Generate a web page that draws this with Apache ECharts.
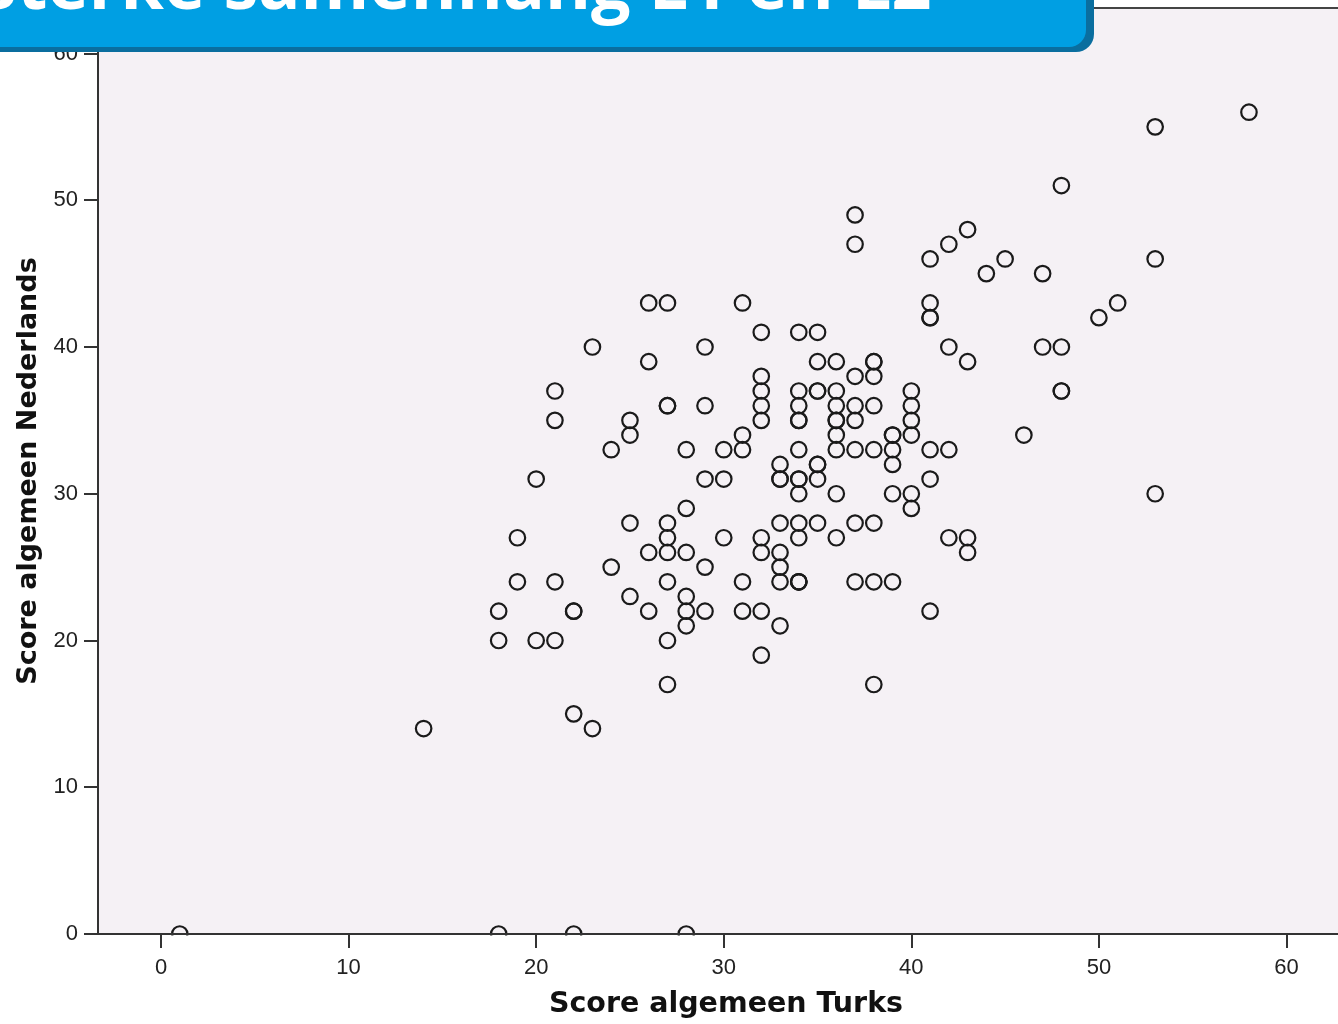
<!DOCTYPE html>
<html>
<head>
<meta charset="utf-8">
<title>Sterke samenhang L1 en L2</title>
<script src="https://cdn.jsdelivr.net/npm/echarts@6/dist/echarts.min.js"></script>
<style>
    html, body {margin: 0; padding: 0; background: #fff;}
    #main {width: 1338px; height: 1024px;}
</style>
</head>
<body>
<div id="main"></div>
<script>
// score algemeen Turks (x-as), één waarde per leerling
var turks = [
    1, 18, 22, 28, 14, 22, 23, 18, 18, 19, 19, 20, 20, 21, 21, 21, 21, 22, 22, 23,
    24, 24, 25, 25, 25, 25, 26, 26, 26, 26, 27, 27, 27, 27, 27, 27, 27, 27, 27,
    28, 28, 28, 28, 28, 28, 29, 29, 29, 29, 29, 30, 30, 30, 31, 31, 31, 31, 31,
    32, 32, 32, 32, 32, 32, 32, 32, 32, 33, 33, 33, 33, 33, 33, 33, 33,
    34, 34, 34, 34, 34, 34, 34, 34, 34, 34, 34, 34, 34, 34,
    35, 35, 35, 35, 35, 35, 35, 35, 36, 36, 36, 36, 36, 36, 36, 36, 36,
    37, 37, 37, 37, 37, 37, 37, 37, 38, 38, 38, 38, 38, 38, 38, 38,
    39, 39, 39, 39, 39, 39, 40, 40, 40, 40, 40, 40, 41, 41, 41, 41, 41, 41, 41,
    42, 42, 42, 42, 43, 43, 43, 43, 44, 45, 46, 47, 47, 48, 48, 48, 48,
    50, 51, 53, 53, 53, 58
];
// score algemeen Nederlands (y-as), zelfde volgorde
var nederlands = [
    0, 0, 0, 0, 14, 15, 14, 22, 20, 27, 24, 31, 20, 37, 35, 24, 20, 22, 22, 40,
    33, 25, 35, 34, 28, 23, 43, 39, 26, 22, 43, 36, 36, 28, 27, 26, 24, 20, 17,
    33, 29, 26, 23, 22, 21, 40, 36, 31, 25, 22, 33, 31, 27, 43, 34, 33, 24, 22,
    41, 38, 37, 36, 35, 27, 26, 22, 19, 32, 31, 31, 28, 26, 25, 24, 21,
    41, 37, 36, 35, 35, 33, 31, 31, 30, 28, 27, 24, 24, 24,
    41, 39, 37, 37, 32, 32, 31, 28, 39, 37, 36, 35, 35, 34, 33, 30, 27,
    49, 47, 38, 36, 35, 33, 28, 24, 39, 39, 38, 36, 33, 28, 24, 17,
    34, 34, 33, 32, 30, 24, 37, 36, 35, 34, 30, 29, 46, 43, 42, 42, 33, 31, 22,
    47, 40, 33, 27, 48, 39, 27, 26, 45, 46, 34, 45, 40, 51, 40, 37, 37,
    42, 43, 55, 46, 30, 56
];
// tick labels
var xTicks = [0, 10, 20, 30, 40, 50, 60];
var yTicks = [0, 10, 20, 30, 40, 50, 60];

var titleText = 'Sterke samenhang L1 en L2';

function scatterChart() {
    var chart = echarts.init(document.getElementById('main'));
    var points = turks.map(function (t, i) {
        return [t, nederlands[i]];
    });

    var labelStyle = {
        fontFamily: 'Liberation Sans',
        fontSize: 22,
        color: '#222'
    };

    var option = {
        animation: false,
        backgroundColor: '#fff',
        grid: {
            left: 98,
            top: 8,
            right: -16,
            bottom: 90,
            outerBoundsMode: 'none',
            containLabel: false,
            show: true,
            backgroundColor: '#f5f1f5',
            borderColor: '#444',
            borderWidth: 2
        },
        xAxis: {
            type: 'value',
            min: -3.36,
            max: 63.6,
            z: 5,
            name: 'Score algemeen Turks',
            nameLocation: 'middle',
            nameGap: 56,
            nameTextStyle: {
                fontFamily: 'DejaVu Sans',
                fontWeight: 'bold',
                fontSize: 28.5,
                color: '#111'
            },
            splitLine: {show: false},
            axisLine: {onZero: false, lineStyle: {color: '#333', width: 2}},
            axisTick: {
                customValues: xTicks,
                length: 14,
                lineStyle: {color: '#333', width: 2}
            },
            axisLabel: Object.assign({customValues: xTicks, margin: 23}, labelStyle)
        },
        yAxis: {
            type: 'value',
            min: 0,
            max: 63.1,
            z: 5,
            name: 'Score algemeen Nederlands',
            nameLocation: 'middle',
            nameGap: 52,
            nameTextStyle: {
                fontFamily: 'DejaVu Sans',
                fontWeight: 'bold',
                fontSize: 27,
                color: '#111'
            },
            splitLine: {show: false},
            axisLine: {onZero: false, lineStyle: {color: '#333', width: 2}},
            axisTick: {
                customValues: yTicks,
                length: 14,
                lineStyle: {color: '#333', width: 2}
            },
            axisLabel: Object.assign({customValues: yTicks, margin: 20}, labelStyle)
        },
        graphic: [
            // hides the lower half of the markers on y = 0
            {
                type: 'rect',
                z: 3,
                silent: true,
                shape: {x: 0, y: 935.5, width: 1338, height: 90},
                style: {fill: '#fff'}
            },
            // title banner (cut off at the top, like the slide)
            {
                type: 'rect',
                z: 20,
                shape: {x: -30, y: -30, width: 1124, height: 82, r: [0, 0, 18, 0]},
                style: {fill: '#0a6e9f'}
            },
            {
                type: 'rect',
                z: 21,
                shape: {x: -30, y: -30, width: 1116, height: 77, r: [0, 0, 17, 0]},
                style: {fill: '#009fe3'}
            },
            {
                type: 'text',
                z: 22,
                x: 455,
                y: -11,
                style: {
                    text: titleText,
                    fill: '#fff',
                    fontFamily: 'Open Sans',
                    fontWeight: 'bold',
                    fontSize: 70,
                    align: 'center',
                    verticalAlign: 'middle'
                }
            }
        ],
        series: [
            {
                type: 'scatter',
                symbol: 'circle',
                symbolSize: 15.5,
                z: 2,
                itemStyle: {
                    color: 'rgba(0,0,0,0)',
                    borderColor: '#1a1a1a',
                    borderWidth: 2.2,
                    opacity: 1
                },
                data: points
            }
        ]
    };
    chart.setOption(option);
}

scatterChart();
</script>
</body>
</html>
